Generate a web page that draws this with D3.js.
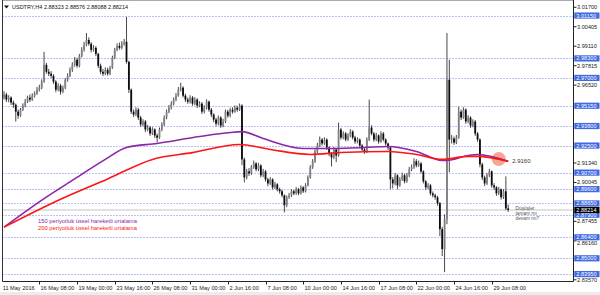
<!DOCTYPE html>
<html>
<head>
<meta charset="utf-8">
<script src="https://cdn.jsdelivr.net/npm/d3@7"></script>
<style>
body { margin: 0; background: #fff; }
text { font-family: "Liberation Sans", Arial, sans-serif; }
</style>
</head>
<body>
<div id="chart"></div>
<script>
const symbol = 'USDTRY,H4';
const lastQuote = [2.88323, 2.88576, 2.88088, 2.88214];

const opens = [
  2.9569, 2.9589, 2.9556, 2.9569, 2.9536, 2.9522, 2.9476, 2.9449, 2.9489, 2.9516,
  2.9542, 2.9569, 2.9556, 2.9582, 2.9595, 2.9622, 2.9635, 2.9675, 2.9787, 2.9741,
  2.9728, 2.9714, 2.9675, 2.9622, 2.9648, 2.9609, 2.9635, 2.9688, 2.9714, 2.9754,
  2.9787, 2.9821, 2.9781, 2.9847, 2.9887, 2.9920, 2.9953, 2.9927, 2.9887, 2.9900,
  2.9860, 2.9781, 2.9741, 2.9728, 2.9754, 2.9728, 2.9768, 2.9834, 2.9887, 2.9913,
  2.9900, 2.9927, 2.9940, 2.9807, 2.9622, 2.9476, 2.9456, 2.9489, 2.9436, 2.9390,
  2.9410, 2.9357, 2.9370, 2.9330, 2.9357, 2.9317, 2.9303, 2.9357, 2.9390, 2.9436,
  2.9476, 2.9502, 2.9529, 2.9556, 2.9582, 2.9622, 2.9635, 2.9582, 2.9556, 2.9542,
  2.9569, 2.9529, 2.9556, 2.9516, 2.9529, 2.9476, 2.9502, 2.9542, 2.9489, 2.9456,
  2.9423, 2.9396, 2.9436, 2.9383, 2.9410, 2.9476, 2.9449, 2.9489, 2.9476, 2.9502,
  2.9489, 2.9516, 2.9158, 2.9038, 2.9078, 2.9065, 2.9105, 2.9131, 2.9092, 2.9118,
  2.9052, 2.9078, 2.9025, 2.8998, 2.9025, 2.8972, 2.8992, 2.8959, 2.8946, 2.8919,
  2.8853, 2.8906, 2.8919, 2.8946, 2.8932, 2.8959, 2.8932, 2.8972, 2.8946, 2.8985,
  2.9038, 2.9105, 2.9145, 2.9211, 2.9250, 2.9290, 2.9264, 2.9290, 2.9237, 2.9197,
  2.9171, 2.9224, 2.9184, 2.9357, 2.9303, 2.9330, 2.9290, 2.9317, 2.9343, 2.9303,
  2.9277, 2.9290, 2.9250, 2.9224, 2.9211, 2.9290, 2.9370, 2.9330, 2.9290, 2.9317,
  2.9277, 2.9330, 2.9290, 2.9264, 2.9237, 2.9025, 2.8998, 2.9052, 2.8985, 2.9025,
  2.9052, 2.9012, 2.9052, 2.9092, 2.9105, 2.9145, 2.9118, 2.9131, 2.9078, 2.9012,
  2.8972, 2.8985, 2.8932, 2.8919, 2.8906, 2.8866, 2.8694, 2.8561, 2.8760, 2.9688,
  2.9290, 2.9297, 2.9270, 2.9303, 2.9476, 2.9436, 2.9489, 2.9410, 2.9436, 2.9383,
  2.9410, 2.9330, 2.9290, 2.9125, 2.9038, 2.8998, 2.9052, 2.9078, 2.8985, 2.8972,
  2.8932, 2.8959, 2.8906, 2.8946, 2.88323
];
const highs = [
  2.9612, 2.9601, 2.9585, 2.9578, 2.9549, 2.9530, 2.9490, 2.9500, 2.9531, 2.9560,
  2.9582, 2.9590, 2.9598, 2.9611, 2.9640, 2.9655, 2.9690, 2.9874, 2.9800, 2.9760,
  2.9745, 2.9725, 2.9685, 2.9665, 2.9660, 2.9650, 2.9700, 2.9730, 2.9770, 2.9805,
  2.9840, 2.9834, 2.9860, 2.9905, 2.9940, 2.9999, 2.9970, 2.9938, 2.9918, 2.9912,
  2.9868, 2.9795, 2.9760, 2.9770, 2.9768, 2.9780, 2.9848, 2.9900, 2.9930, 2.9935,
  2.9945, 2.9960, 3.0106, 2.9815, 2.9630, 2.9490, 2.9505, 2.9500, 2.9448, 2.9425,
  2.9420, 2.9388, 2.9380, 2.9372, 2.9365, 2.9330, 2.9370, 2.9405, 2.9450, 2.9490,
  2.9520, 2.9545, 2.9570, 2.9600, 2.9640, 2.9668, 2.9645, 2.9595, 2.9570, 2.9585,
  2.9580, 2.9572, 2.9565, 2.9545, 2.9540, 2.9518, 2.9558, 2.9550, 2.9500, 2.9465,
  2.9435, 2.9450, 2.9445, 2.9428, 2.9490, 2.9488, 2.9502, 2.9505, 2.9518, 2.9515,
  2.9530, 2.9525, 2.9170, 2.9095, 2.9100, 2.9120, 2.9150, 2.9140, 2.9135, 2.9125,
  2.9095, 2.9088, 2.9035, 2.9040, 2.9032, 2.9008, 2.9000, 2.8970, 2.8955, 2.8925,
  2.8918, 2.8935, 2.8960, 2.8955, 2.8975, 2.8968, 2.8985, 2.8980, 2.9000, 2.9052,
  2.9120, 2.9160, 2.9225, 2.9268, 2.9310, 2.9300, 2.9305, 2.9298, 2.9245, 2.9205,
  2.9240, 2.9232, 2.9403, 2.9368, 2.9345, 2.9340, 2.9332, 2.9360, 2.9352, 2.9315,
  2.9305, 2.9298, 2.9260, 2.9235, 2.9305, 2.9556, 2.9385, 2.9340, 2.9335, 2.9325,
  2.9345, 2.9340, 2.9298, 2.9270, 2.9245, 2.9040, 2.9068, 2.9060, 2.9040, 2.9070,
  2.9062, 2.9068, 2.9108, 2.9125, 2.9165, 2.9160, 2.9150, 2.9140, 2.9085, 2.9020,
  2.9000, 2.8995, 2.8945, 2.8930, 2.8915, 2.8875, 2.8710, 2.8793, 2.9999, 2.9821,
  2.9320, 2.9310, 2.9320, 2.9509, 2.9490, 2.9505, 2.9498, 2.9452, 2.9445, 2.9425,
  2.9420, 2.9340, 2.9298, 2.9135, 2.9050, 2.9068, 2.9095, 2.9085, 2.9000, 2.8980,
  2.8975, 2.8965, 2.8960, 2.9045, 2.88576
];
const lows = [
  2.9556, 2.9540, 2.9538, 2.9520, 2.9501, 2.9410, 2.9428, 2.9441, 2.9480, 2.9505,
  2.9533, 2.9540, 2.9547, 2.9570, 2.9588, 2.9610, 2.9625, 2.9668, 2.9728, 2.9712,
  2.9700, 2.9660, 2.9605, 2.9612, 2.9589, 2.9598, 2.9625, 2.9675, 2.9705, 2.9740,
  2.9775, 2.9768, 2.9770, 2.9836, 2.9875, 2.9910, 2.9915, 2.9870, 2.9875, 2.9845,
  2.9765, 2.9725, 2.9712, 2.9718, 2.9715, 2.9718, 2.9760, 2.9825, 2.9878, 2.9888,
  2.9890, 2.9915, 2.9795, 2.9600, 2.9460, 2.9440, 2.9445, 2.9420, 2.9375, 2.9378,
  2.9340, 2.9345, 2.9315, 2.9320, 2.9300, 2.9270, 2.9295, 2.9345, 2.9380, 2.9425,
  2.9465, 2.9490, 2.9518, 2.9545, 2.9575, 2.9610, 2.9570, 2.9540, 2.9528, 2.9530,
  2.9515, 2.9518, 2.9500, 2.9505, 2.9460, 2.9465, 2.9490, 2.9475, 2.9440, 2.9405,
  2.9378, 2.9385, 2.9368, 2.9372, 2.9400, 2.9435, 2.9438, 2.9462, 2.9468, 2.9475,
  2.9480, 2.9120, 2.9005, 2.9025, 2.9048, 2.9055, 2.9095, 2.9078, 2.9080, 2.9038,
  2.9040, 2.9010, 2.8980, 2.8988, 2.8958, 2.8960, 2.8945, 2.8930, 2.8905, 2.8806,
  2.8840, 2.8895, 2.8908, 2.8920, 2.8922, 2.8920, 2.8925, 2.8935, 2.8938, 2.8978,
  2.9030, 2.9095, 2.9135, 2.9200, 2.9240, 2.9250, 2.9255, 2.9222, 2.9180, 2.9111,
  2.9160, 2.9140, 2.9175, 2.9290, 2.9292, 2.9278, 2.9280, 2.9305, 2.9290, 2.9262,
  2.9265, 2.9235, 2.9210, 2.9195, 2.9200, 2.9280, 2.9318, 2.9275, 2.9280, 2.9262,
  2.9268, 2.9278, 2.9250, 2.9220, 2.8959, 2.8965, 2.8985, 2.8959, 2.8975, 2.9015,
  2.8998, 2.9002, 2.9040, 2.9080, 2.9095, 2.9105, 2.9108, 2.9065, 2.8998, 2.8955,
  2.8960, 2.8918, 2.8905, 2.8890, 2.8850, 2.8647, 2.8515, 2.8408, 2.8727, 2.9072,
  2.9264, 2.9255, 2.9260, 2.9295, 2.9420, 2.9428, 2.9395, 2.9398, 2.9368, 2.9372,
  2.9315, 2.9275, 2.9105, 2.9020, 2.8980, 2.8988, 2.9040, 2.8970, 2.8955, 2.8915,
  2.8920, 2.8890, 2.8895, 2.8820, 2.88088
];
const closes = [
  2.9589, 2.9556, 2.9569, 2.9536, 2.9522, 2.9476, 2.9449, 2.9489, 2.9516, 2.9542,
  2.9569, 2.9556, 2.9582, 2.9595, 2.9622, 2.9635, 2.9675, 2.9787, 2.9741, 2.9728,
  2.9714, 2.9675, 2.9622, 2.9648, 2.9609, 2.9635, 2.9688, 2.9714, 2.9754, 2.9787,
  2.9821, 2.9781, 2.9847, 2.9887, 2.9920, 2.9953, 2.9927, 2.9887, 2.9900, 2.9860,
  2.9781, 2.9741, 2.9728, 2.9754, 2.9728, 2.9768, 2.9834, 2.9887, 2.9913, 2.9900,
  2.9927, 2.9940, 2.9807, 2.9622, 2.9476, 2.9456, 2.9489, 2.9436, 2.9390, 2.9410,
  2.9357, 2.9370, 2.9330, 2.9357, 2.9317, 2.9303, 2.9357, 2.9390, 2.9436, 2.9476,
  2.9502, 2.9529, 2.9556, 2.9582, 2.9622, 2.9635, 2.9582, 2.9556, 2.9542, 2.9569,
  2.9529, 2.9556, 2.9516, 2.9529, 2.9476, 2.9502, 2.9542, 2.9489, 2.9456, 2.9423,
  2.9396, 2.9436, 2.9383, 2.9410, 2.9476, 2.9449, 2.9489, 2.9476, 2.9502, 2.9489,
  2.9516, 2.9158, 2.9038, 2.9078, 2.9065, 2.9105, 2.9131, 2.9092, 2.9118, 2.9052,
  2.9078, 2.9025, 2.8998, 2.9025, 2.8972, 2.8992, 2.8959, 2.8946, 2.8919, 2.8853,
  2.8906, 2.8919, 2.8946, 2.8932, 2.8959, 2.8932, 2.8972, 2.8946, 2.8985, 2.9038,
  2.9105, 2.9145, 2.9211, 2.9250, 2.9290, 2.9264, 2.9290, 2.9237, 2.9197, 2.9171,
  2.9224, 2.9184, 2.9357, 2.9303, 2.9330, 2.9290, 2.9317, 2.9343, 2.9303, 2.9277,
  2.9290, 2.9250, 2.9224, 2.9211, 2.9290, 2.9370, 2.9330, 2.9290, 2.9317, 2.9277,
  2.9330, 2.9290, 2.9264, 2.9237, 2.9025, 2.8998, 2.9052, 2.8985, 2.9025, 2.9052,
  2.9012, 2.9052, 2.9092, 2.9105, 2.9145, 2.9118, 2.9131, 2.9078, 2.9012, 2.8972,
  2.8985, 2.8932, 2.8919, 2.8906, 2.8866, 2.8694, 2.8561, 2.8760, 2.9688, 2.9290,
  2.9297, 2.9270, 2.9303, 2.9476, 2.9436, 2.9489, 2.9410, 2.9436, 2.9383, 2.9410,
  2.9330, 2.9290, 2.9125, 2.9038, 2.8998, 2.9052, 2.9078, 2.8985, 2.8972, 2.8932,
  2.8959, 2.8906, 2.8946, 2.8832, 2.88214
];

const timeLabels = ['11 May 2016', '16 May 08:00', '19 May 00:00', '23 May 16:00', '26 May 08:00',
  '31 May 00:00', '2 Jun 16:00', '7 Jun 08:00', '10 Jun 00:00', '14 Jun 16:00',
  '17 Jun 08:00', '22 Jun 00:00', '24 Jun 16:00', '29 Jun 08:00'];
const timeLabelBars = [0, 15, 31, 47, 63, 79, 95, 111, 127, 143, 159, 175, 191, 207];

const priceTicks = [3.01700, 3.00405, 2.99110, 2.97815, 2.96520, 2.91340, 2.90045, 2.87455, 2.86160, 2.83570];
const levels = [3.01150, 2.98300, 2.97000, 2.95150, 2.93800, 2.92500, 2.90700, 2.89600, 2.88650, 2.87900, 2.86400, 2.85000, 2.83950];

const ema150Bars = [0, 17, 30, 43, 52, 65, 83, 96, 101, 110, 127, 139, 153, 163, 175, 186, 188, 197, 201, 214];
const ema150 = [2.8707, 2.8897, 2.9028, 2.9158, 2.9237, 2.9264, 2.9310, 2.9337, 2.9343, 2.9297,
  2.9231, 2.9231, 2.9237, 2.9244, 2.9211, 2.9151, 2.9151, 2.9184, 2.9191, 2.9145];
const ema200Bars = [0, 24, 44, 63, 80, 100, 113, 130, 143, 163, 175, 186, 197, 201, 214];
const ema200 = [2.8707, 2.8893, 2.9028, 2.9158, 2.9203, 2.9257, 2.9224, 2.9191, 2.9204, 2.9211,
  2.9191, 2.9158, 2.9178, 2.9178, 2.9145];

const markerBar = 210;
const markerValue = 2.9160;
const legend = ['150 periyotluk üssel hareketli ortalama', '200 periyotluk üssel hareketli ortalama'];
const note = ['Düşüşler', 'tamam mı', 'devam mı?'];

const width = 600, height = 295;
const plot = { left: 2.5, right: 573.5, top: 0.5, bottom: 281.5 };
const purple = '#8e24aa', red = '#ff1414', levelBlue = '#4169e1';

const svg = d3.select('#chart').append('svg').attr('width', width).attr('height', height);
svg.append('rect').attr('width', width).attr('height', height).attr('fill', '#fff');
svg.append('rect').attr('x', 0).attr('y', 292).attr('width', width).attr('height', 3).attr('fill', '#ececec');

const x = d3.scaleLinear().domain([0, closes.length - 1]).range([4, 508.2]);
const y = d3.scaleLinear().domain([2.85, 3.017]).range([258.3, 7.3]);

// support / resistance levels
svg.append('g').selectAll('line').data(levels).enter().append('line')
  .attr('x1', plot.left).attr('x2', plot.right)
  .attr('y1', d => Math.round(y(d)) + 0.5).attr('y2', d => Math.round(y(d)) + 0.5)
  .attr('stroke', '#6f86e8').attr('stroke-width', 1).attr('stroke-dasharray', '1,2');

// bid line
svg.append('line').attr('x1', plot.left).attr('x2', plot.right)
  .attr('y1', y(lastQuote[3])).attr('y2', y(lastQuote[3]))
  .attr('stroke', '#c4c4c4').attr('stroke-width', 1);

// candles
const bars = d3.range(closes.length);
const candles = svg.append('g');
candles.selectAll('line').data(bars).enter().append('line')
  .attr('x1', i => x(i)).attr('x2', i => x(i))
  .attr('y1', i => y(highs[i])).attr('y2', i => y(lows[i]))
  .attr('stroke', '#333').attr('stroke-width', 0.9);
candles.selectAll('rect').data(bars).enter().append('rect')
  .attr('x', i => x(i) - 0.9)
  .attr('width', 1.8)
  .attr('y', i => y(Math.max(opens[i], closes[i])))
  .attr('height', i => Math.max(0.8, Math.abs(y(opens[i]) - y(closes[i]))))
  .attr('fill', i => closes[i] >= opens[i] ? '#808080' : '#0c0c0c');

// moving averages
const maLine = d3.line().x(d => x(d[0])).y(d => y(d[1])).curve(d3.curveMonotoneX);
svg.append('circle').attr('cx', x(markerBar)).attr('cy', y(markerValue)).attr('r', 7)
  .attr('fill', '#f5977c').attr('opacity', 0.85);
svg.append('path').attr('d', maLine(ema150Bars.map((b, k) => [b, ema150[k]])))
  .attr('fill', 'none').attr('stroke', purple).attr('stroke-width', 1.6);
svg.append('path').attr('d', maLine(ema200Bars.map((b, k) => [b, ema200[k]])))
  .attr('fill', 'none').attr('stroke', red).attr('stroke-width', 1.6);
svg.append('text').attr('x', x(closes.length - 1) + 4).attr('y', y(markerValue) + 4)
  .attr('font-size', 6).attr('fill', '#333').text(markerValue.toFixed(4));

// legend
svg.append('g').selectAll('text').data(legend).enter().append('text')
  .attr('x', 38).attr('y', (d, i) => 223 + i * 7.3)
  .attr('font-size', 5.8).attr('fill', (d, i) => i == 0 ? purple : red)
  .text(d => d);

// note
svg.append('g').selectAll('text').data(note).enter().append('text')
  .attr('x', 515.5).attr('y', (d, i) => 210.3 + i * 4.7)
  .attr('font-size', 4.8).attr('fill', '#555')
  .text(d => d);

// frame
svg.append('path')
  .attr('d', `M${plot.left},${plot.bottom}V${plot.top}H${plot.right}`)
  .attr('fill', 'none').attr('stroke', '#aaa');
svg.append('line').attr('x1', plot.left).attr('x2', plot.left).attr('y1', 0).attr('y2', plot.bottom)
  .attr('stroke', '#333');
svg.append('path')
  .attr('d', `M${plot.left},${plot.bottom}H${plot.right}V0`)
  .attr('fill', 'none').attr('stroke', '#222');

// title
svg.append('path').attr('d', 'M4,5.5h5l-2.5,3z').attr('fill', '#111');
svg.append('text').attr('x', 12).attr('y', 9.2).attr('font-size', 5.5).attr('fill', '#111')
  .text(symbol + '  ' + lastQuote.map(v => v.toFixed(5)).join(' '));

// time axis
const timeAxis = svg.append('g');
timeAxis.selectAll('line').data(timeLabelBars.slice(1)).enter().append('line')
  .attr('x1', d => Math.round(x(d)) + 0.5).attr('x2', d => Math.round(x(d)) + 0.5)
  .attr('y1', plot.bottom).attr('y2', plot.bottom + 3)
  .attr('stroke', '#222');
timeAxis.selectAll('text').data(timeLabels).enter().append('text')
  .attr('x', (d, i) => i == 0 ? 2.7 : Math.round(x(timeLabelBars[i])) + 1.5)
  .attr('y', 289.8)
  .attr('font-size', 5.6).attr('fill', '#222')
  .text(d => d);

// price axis
const boxHalf = 3.1;
const tickLabelY = d => {
  const above = levels.filter(l => l > d && y(d) - y(l) < 6.5);
  return above.length ? y(above[above.length - 1]) + boxHalf + 4.6 : y(d) + 2;
};
const priceAxis = svg.append('g');
priceAxis.selectAll('line').data(priceTicks).enter().append('line')
  .attr('x1', plot.right).attr('x2', plot.right + 3)
  .attr('y1', d => y(d)).attr('y2', d => y(d))
  .attr('stroke', '#222');
priceAxis.selectAll('text.tick').data(priceTicks).enter().append('text')
  .attr('class', 'tick')
  .attr('x', 577).attr('y', tickLabelY)
  .attr('font-size', 5.6).attr('fill', '#222')
  .text(d => d.toFixed(5));

const levelLabels = priceAxis.selectAll('g.level').data(levels).enter().append('g').attr('class', 'level');
levelLabels.append('rect')
  .attr('x', 574.3).attr('y', d => y(d) - boxHalf).attr('width', 25.2).attr('height', boxHalf * 2)
  .attr('fill', levelBlue);
levelLabels.append('text')
  .attr('x', 576.3).attr('y', d => y(d) + 2)
  .attr('font-size', 5.6).attr('fill', '#fff')
  .text(d => d.toFixed(5));

priceAxis.append('rect')
  .attr('x', 574.3).attr('y', y(lastQuote[3]) - boxHalf).attr('width', 25.2).attr('height', boxHalf * 2)
  .attr('fill', '#000');
priceAxis.append('text')
  .attr('x', 576.3).attr('y', y(lastQuote[3]) + 2)
  .attr('font-size', 5.6).attr('fill', '#fff')
  .text(lastQuote[3].toFixed(5));
</script>
</body>
</html>
